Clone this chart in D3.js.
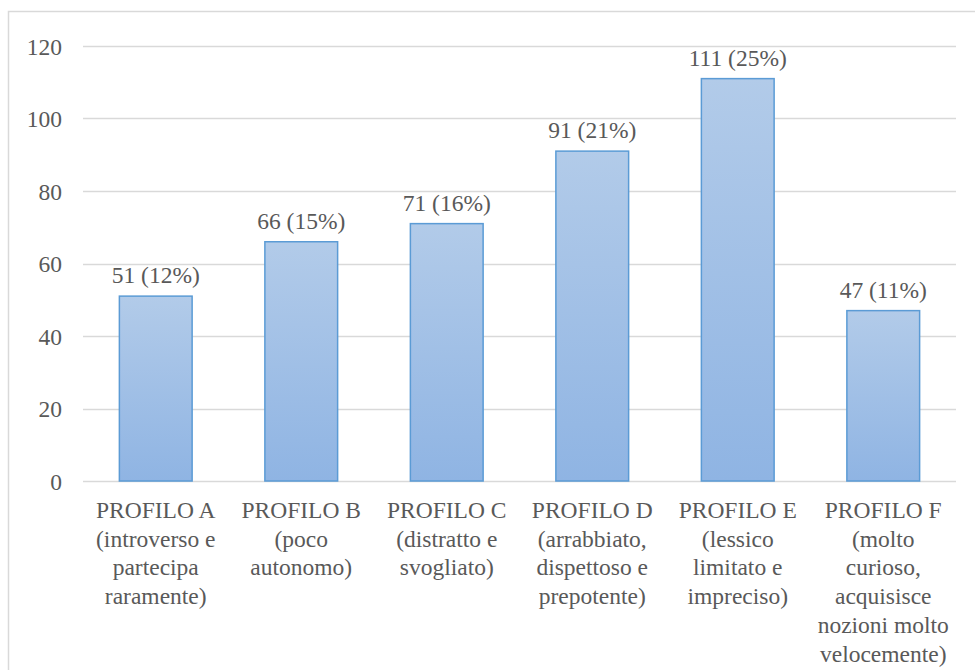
<!DOCTYPE html>
<html>
<head>
<meta charset="utf-8">
<script src="https://cdn.jsdelivr.net/npm/d3@7"></script>
<style>
  html, body { margin: 0; padding: 0; background: #fff; }
  svg { display: block; }
  svg text { font-family: "Liberation Serif", "Times New Roman", Times, serif; }
</style>
</head>
<body>
<svg id="chart" width="975" height="670"></svg>
<script>
// Profile counts with share of total
const categories = ["A", "B", "C", "D", "E", "F"];
const categoryLabels = [
  ["PROFILO A", "(introverso e", "partecipa", "raramente)"],
  ["PROFILO B", "(poco", "autonomo)"],
  ["PROFILO C", "(distratto e", "svogliato)"],
  ["PROFILO D", "(arrabbiato,", "dispettoso e", "prepotente)"],
  ["PROFILO E", "(lessico", "limitato e", "impreciso)"],
  ["PROFILO F", "(molto", "curioso,", "acquisisce", "nozioni molto", "velocemente)"]
];
const counts = [51, 66, 71, 91, 111, 47];
const percents = ["12%", "15%", "16%", "21%", "25%", "11%"];
const yTicks = [0, 20, 40, 60, 80, 100, 120];

const svg = d3.select("#chart");
const serif = "Liberation Serif, Times New Roman, Times, serif";
const textColor = "#595959";
const fontSize = "23.5px";

// Outer chart frame
svg.append("rect")
  .attr("x", 8.5).attr("y", 11.5)
  .attr("width", 975).attr("height", 670)
  .attr("fill", "#fff")
  .attr("stroke", "#d9d9d9").attr("stroke-width", 1.5);

const plot = { left: 83, right: 956, top: 46, bottom: 481 };

const x = d3.scaleBand()
  .domain(categories)
  .range([plot.left, plot.right])
  .paddingInner(0.5).paddingOuter(0.25);

const y = d3.scaleLinear()
  .domain([0, 120])
  .range([plot.bottom, plot.top]);

// Gradient fill for bars
const defs = svg.append("defs");
const grad = defs.append("linearGradient")
  .attr("id", "barGrad")
  .attr("x1", 0).attr("y1", 0).attr("x2", 0).attr("y2", 1);
grad.append("stop").attr("offset", "0%").attr("stop-color", "#b2cbe9");
grad.append("stop").attr("offset", "100%").attr("stop-color", "#8fb4e3");

// Horizontal gridlines
svg.append("g")
  .selectAll("line")
  .data(yTicks)
  .join("line")
  .attr("x1", plot.left).attr("x2", plot.right)
  .attr("y1", d => Math.round(y(d)) + 0.5)
  .attr("y2", d => Math.round(y(d)) + 0.5)
  .attr("stroke", "#d9d9d9")
  .attr("stroke-width", d => d === 0 ? 1.5 : 1.3);

// Y axis labels
const yAxis = d3.axisLeft(y).tickValues(yTicks).tickSize(0).tickPadding(21);
const yG = svg.append("g")
  .attr("transform", `translate(${plot.left},0)`)
  .call(yAxis)
  .attr("font-family", null)
  .attr("font-size", null);
yG.select(".domain").remove();
yG.selectAll("text")
  .style("font-family", serif)
  .style("font-size", fontSize)
  .attr("fill", textColor)
  .attr("dy", "0.34em");

// Bars
svg.append("g")
  .selectAll("rect")
  .data(counts)
  .join("rect")
  .attr("x", (d, i) => x(categories[i]))
  .attr("y", d => y(d))
  .attr("width", x.bandwidth())
  .attr("height", d => y(0) - y(d))
  .attr("fill", "url(#barGrad)")
  .attr("stroke", "#5b9bd5")
  .attr("stroke-width", 1.5);

// Value labels
svg.append("g")
  .selectAll("text")
  .data(counts)
  .join("text")
  .attr("x", (d, i) => x(categories[i]) + x.bandwidth() / 2)
  .attr("y", d => y(d) - 13)
  .attr("text-anchor", "middle")
  .style("font-family", serif)
  .style("font-size", fontSize)
  .attr("fill", textColor)
  .text((d, i) => `${d} (${percents[i]})`);

// Category labels (multi-line)
const catG = svg.append("g")
  .selectAll("text")
  .data(categoryLabels)
  .join("text")
  .attr("x", (d, i) => x(categories[i]) + x.bandwidth() / 2)
  .attr("y", plot.bottom + 37)
  .attr("text-anchor", "middle")
  .style("font-family", serif)
  .style("font-size", fontSize)
  .attr("fill", textColor);
catG.each(function(lines, i) {
  const cx = x(categories[i]) + x.bandwidth() / 2;
  d3.select(this).selectAll("tspan")
    .data(lines)
    .join("tspan")
    .attr("x", cx)
    .attr("dy", (d, j) => j === 0 ? 0 : 28.7)
    .text(d => d);
});
</script>
</body>
</html>
